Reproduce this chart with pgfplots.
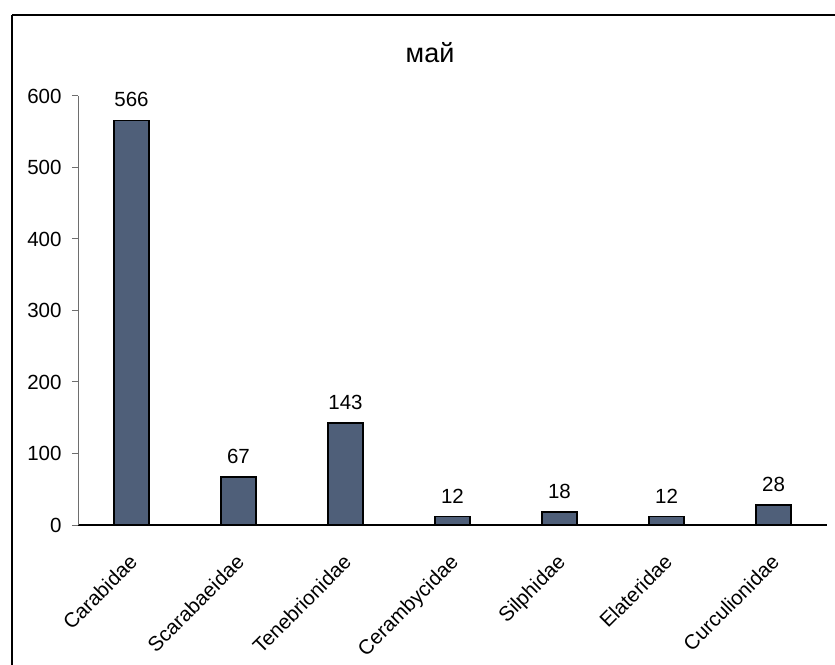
\documentclass[border=0pt]{standalone}
\usepackage{pgfplots}
\pgfplotsset{compat=1.18}
\usepackage{fontspec}
\setmainfont{Liberation Sans}
\definecolor{barfill}{RGB}{79,95,121}
\definecolor{axisgray}{RGB}{110,110,110}

\pgfplotstableread{
x  n
0  566
1  67
2  143
3  12
4  18
5  12
6  28
}\maytable

\begin{document}
\begin{tikzpicture}[x=1pt,y=1pt]
  \useasboundingbox (0,0) rectangle (835,664);
  \clip (0,0) rectangle (835,664);
  % outer frame (right and bottom sides fall outside the page)
  \draw[line width=2.2pt] (12,649) -- (840,649);
  \draw[line width=2.2pt] (12,649) -- (12,-10);
  \node[font=\fontsize{27}{32}\selectfont] at (430,611) {май};
  \begin{axis}[
    at={(78pt,139pt)}, anchor=south west,
    scale only axis, width=749pt, height=429pt,
    xmin=-0.5, xmax=6.5, ymin=0, ymax=600,
    axis x line*=bottom, axis y line*=left,
    x axis line style={line width=2pt, -},
    y axis line style={line width=1pt, axisgray, -},
    ytick={0,100,...,600},
    ytick style={line width=1pt, axisgray},
    major tick length=6pt,
    tick align=outside,
    xtick={0,...,6},
    xticklabels={Carabidae,Scarabaeidae,Tenebrionidae,Cerambycidae,Silphidae,Elateridae,Curculionidae},
    xtick style={draw=none},
    minor xtick={-0.5,0.5,...,6.5},
    minor tick length=6pt,
    minor x tick style={line width=1.6pt, black},
    x tick label style={rotate=45, anchor=north east, font=\fontsize{20.5}{25}\selectfont, inner sep=1pt, yshift=-12pt, xshift=-17pt},
    y tick label style={font=\fontsize{20.5}{25}\selectfont, xshift=-7pt},
    /pgf/number format/assume math mode=true,
    ybar, bar width=35pt,
    nodes near coords,
    every node near coord/.append style={font=\fontsize{20.5}{24}\selectfont, black, inner sep=0pt, anchor=south, yshift=12.5pt},
    clip=false,
  ]
    \addplot[fill=barfill, draw=black, line width=1.5pt] table[x=x, y=n] {\maytable};
  \end{axis}
\end{tikzpicture}
\end{document}
